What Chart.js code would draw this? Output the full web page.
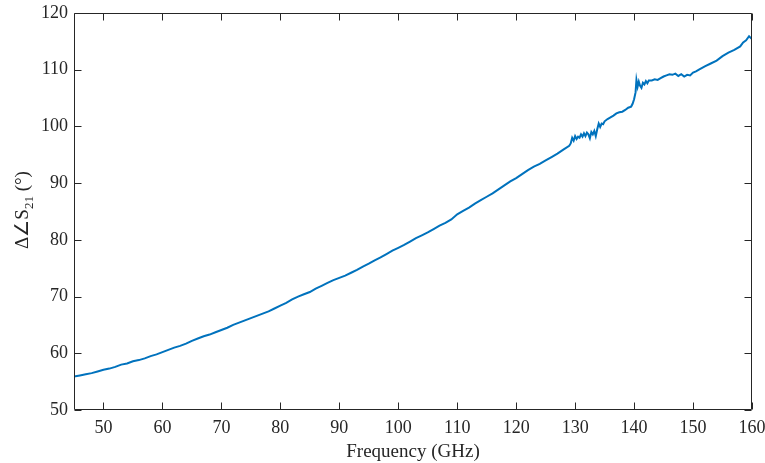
<!DOCTYPE html>
<html>
<head>
<meta charset="utf-8">
<script src="https://cdn.jsdelivr.net/npm/chart.js@4/dist/chart.umd.min.js"></script>
<style>
html,body{margin:0;padding:0;background:#fff;}
#wrap{width:765px;height:463px;position:relative;}
</style>
</head>
<body>
<div id="wrap"><canvas id="c" width="765" height="463"></canvas></div>
<script>
// Frequency (GHz)
const freq = [45,46,47,48,49,50,51,52,53,54,55,56,57,58,59,60,61,62,63,64,65,66,67,68,69,70,71,72,73,74,75,76,77,78,79,80,81,82,83,84,85,86,87,88,89,90,91,92,93,94,95,96,97,98,99,100,101,102,103,104,105,106,107,108,109,110,111,112,113,114,115,116,117,118,119,120,121,122,123,124,125,126,127,128,129,
129.25,129.5,129.75,130,130.25,130.5,130.75,131,131.25,131.5,131.75,132,132.25,132.5,132.75,133,133.25,133.5,133.75,134,134.25,134.5,134.75,135,135.5,136,136.5,137,137.5,138,138.5,139,139.5,139.75,140,140.25,140.4,140.6,140.8,141,141.25,141.5,141.75,142,142.25,142.5,143,143.5,144,144.5,145,145.5,146,146.5,147,147.5,148,148.5,149,149.5,150,150.5,151,152,153,154,155,156,157,158,158.5,159,159.5,160];
// Δ∠S21 (degrees)
const phase = [55.9,56.1,56.3,56.5,56.8,57.1,57.3,57.6,58.0,58.2,58.6,58.8,59.1,59.5,59.8,60.2,60.6,61.0,61.3,61.7,62.2,62.6,63.0,63.3,63.7,64.1,64.5,65.0,65.4,65.8,66.2,66.6,67.0,67.4,67.9,68.4,68.9,69.5,70.0,70.4,70.8,71.4,71.9,72.4,72.9,73.3,73.7,74.2,74.7,75.3,75.8,76.4,76.9,77.5,78.1,78.6,79.1,79.7,80.3,80.8,81.3,81.9,82.5,83.0,83.6,84.5,85.1,85.7,86.4,87.0,87.6,88.2,88.9,89.6,90.3,90.9,91.6,92.3,92.9,93.4,94.0,94.6,95.2,95.9,96.6,
97.0,98.0,97.5,98.3,97.8,98.2,98.0,98.6,98.2,98.8,98.3,98.9,98.6,97.9,99.0,98.6,99.2,98.3,99.5,100.5,99.9,100.5,100.4,100.9,101.3,101.6,101.9,102.3,102.5,102.6,102.9,103.3,103.5,104.0,104.8,106.0,108.2,107.0,107.9,107.2,106.8,107.7,107.4,108.0,107.6,108.1,108.1,108.3,108.2,108.5,108.8,109.0,109.2,109.1,109.3,108.9,109.2,108.8,109.1,109.0,109.5,109.7,110.0,110.6,111.1,111.6,112.4,113.0,113.5,114.1,114.8,115.2,115.9,115.4];
const xTicks = [50,60,70,80,90,100,110,120,130,140,150,160];
const yTicks = [50,60,70,80,90,100,110,120];

const AX = '#262626';
const FONT = '"Liberation Serif","Times New Roman",serif';

const points = freq.map((f,i)=>({x:f,y:phase[i]}));

const boxPlugin = {
  id:'box',
  afterDraw(chart){
    const ctx = chart.ctx, a = chart.chartArea;
    const xs = chart.scales.x, ys = chart.scales.y;
    ctx.save();
    ctx.strokeStyle = AX; ctx.lineWidth = 1;
    const L = Math.round(a.left)+0.5, R = Math.round(a.right)-0.5, T = Math.round(a.top)+0.5, B = Math.round(a.bottom)-0.5;
    ctx.beginPath();
    ctx.rect(L, T, R-L, B-T);
    const tl = 7;
    xTicks.forEach(v=>{
      const p = Math.round(xs.getPixelForValue(v))+0.5;
      ctx.moveTo(p,B); ctx.lineTo(p,B-tl);
      ctx.moveTo(p,T); ctx.lineTo(p,T+tl);
    });
    yTicks.forEach(v=>{
      const p = Math.round(ys.getPixelForValue(v))+0.5;
      ctx.moveTo(L,p); ctx.lineTo(L+tl,p);
      ctx.moveTo(R,p); ctx.lineTo(R-tl,p);
    });
    ctx.stroke();
    // y axis title with subscript
    ctx.translate(22, 210);
    ctx.rotate(-Math.PI/2);
    ctx.fillStyle = AX;
    ctx.textBaseline = 'alphabetic';
    const big = '19px '+FONT, small = '13px '+FONT;
    const parts = [['Δ∠S',big,0],['21',small,5],[' (°)',big,0]];
    let w = 0;
    parts.forEach(p=>{ctx.font=p[1]; w += ctx.measureText(p[0]).width;});
    let x = -w/2;
    parts.forEach(p=>{ctx.font=p[1]; ctx.fillText(p[0], x, 6+p[2]); x += ctx.measureText(p[0]).width;});
    ctx.restore();
  }
};

new Chart(document.getElementById('c'), {
  type:'line',
  data:{datasets:[{data:points,borderColor:'#0072BD',borderWidth:2,pointRadius:0,tension:0,fill:false}]},
  options:{
    responsive:false,animation:false,
    layout:{padding:{top:13,right:13,left:0,bottom:0}},
    plugins:{legend:{display:false},tooltip:{enabled:false}},
    scales:{
      x:{type:'linear',min:45,max:160,
        afterBuildTicks(s){s.ticks = xTicks.map(v=>({value:v}));},
        afterFit(s){s.height = 53; s.paddingLeft = 0; s.paddingRight = 0;},
        grid:{display:false,drawTicks:false},
        border:{display:false},
        ticks:{color:AX,font:{family:FONT,size:18},padding:7,maxRotation:0,autoSkip:false},
        title:{display:true,text:'Frequency (GHz)',color:AX,font:{family:FONT,size:19},padding:{top:0,bottom:0}}
      },
      y:{type:'linear',min:50,max:120,
        afterBuildTicks(s){s.ticks = yTicks.map(v=>({value:v}));},
        afterFit(s){s.width = 74; s.paddingTop = 0; s.paddingBottom = 0;},
        grid:{display:false,drawTicks:false},
        border:{display:false},
        ticks:{color:AX,font:{family:FONT,size:18},padding:6,autoSkip:false}
      }
    }
  },
  plugins:[boxPlugin]
});
</script>
</body>
</html>
